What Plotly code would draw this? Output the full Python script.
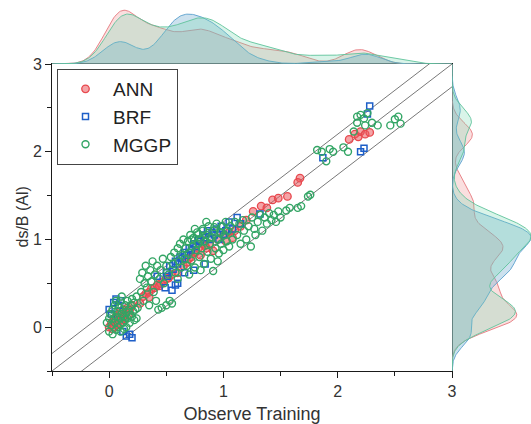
import numpy as np
import plotly.graph_objects as go

# ---------------- data ----------------
ann_x = [0.0, 0.02, 0.03, 0.05, 0.06, 0.08, 0.09, 0.1, 0.1, 0.12, 0.13, 0.14, 0.15, 0.16, 0.17, 0.18, 0.2, 0.04, 0.07, 0.11,
         0.27, 0.3, 0.32, 0.35, 0.37, 0.4, 0.42, 0.45, 0.47, 0.5, 0.52, 0.35, 0.44, 0.55,
         0.6, 0.65, 0.7, 0.72, 0.75, 0.78, 0.8, 0.82, 0.85, 0.88, 0.91, 0.95, 1.0, 1.05, 0.68, 0.76, 0.84,
         1.02, 1.08, 1.1, 1.15, 1.2,
         1.26, 1.33, 1.38, 1.43, 1.48, 1.56, 1.67, 1.65,
         2.1, 2.15, 2.18, 2.2, 2.24, 2.28]
ann_y = [0.0, 0.05, -0.02, 0.08, 0.12, 0.1, 0.15, 0.05, 0.18, 0.12, 0.2, 0.1, 0.16, 0.22, 0.14, 0.2, 0.25, 0.0, 0.03, 0.08,
         0.27, 0.35, 0.38, 0.4, 0.44, 0.45, 0.48, 0.5, 0.52, 0.55, 0.56, 0.34, 0.47, 0.6,
         0.62, 0.7, 0.78, 0.8, 0.85, 0.9, 0.82, 0.95, 0.9, 0.95, 0.87, 1.0, 1.05, 1.08, 0.74, 0.86, 0.93,
         0.98, 1.02, 1.1, 1.15, 1.22,
         1.32, 1.38, 1.36, 1.45, 1.47, 1.49, 1.7, 1.65,
         2.14, 2.2, 2.17, 2.23, 2.2, 2.22]

brf_x = [0.0, 0.02, 0.04, 0.06, 0.08, 0.1, 0.12, 0.15, 0.18, 0.2,
         0.42, 0.51,
         0.49, 0.55, 0.58, 0.6, 0.66, 0.74, 0.84,
         0.5, 0.53, 0.56, 0.58, 0.6, 0.62, 0.64, 0.66, 0.68, 0.7, 0.72, 0.74, 0.76, 0.78, 0.8,
         0.82, 0.84, 0.86, 0.88, 0.9, 0.92, 0.94, 0.96, 0.98, 1.0, 1.02, 1.05, 1.08, 1.12, 1.15,
         1.32, 1.87, 2.2, 2.23, 2.26, 2.28]
brf_y = [0.2, 0.15, 0.28, 0.32, 0.25, 0.3, -0.05, -0.1, -0.08, -0.12,
         0.58, 0.58,
         0.45, 0.42, 0.48, 0.5, 0.62, 0.65, 0.72,
         0.62, 0.7, 0.66, 0.75, 0.72, 0.8, 0.78, 0.85, 0.82, 0.9, 0.88, 0.95, 0.92, 1.0, 0.98,
         1.05, 1.02, 1.1, 1.0, 1.08, 1.05, 1.12, 1.0, 1.15, 1.06, 1.1, 1.2, 1.12, 1.25, 1.18,
         1.29, 1.93, 2.0, 2.04, 2.43, 2.52]

mggp_x = [-0.02, 0.0, 0.0, 0.01, 0.02, 0.03, 0.03, 0.04, 0.05, 0.05, 0.06, 0.07, 0.07, 0.08, 0.08, 0.09, 0.1, 0.1, 0.1,
          0.11, 0.12, 0.12, 0.13, 0.13, 0.14, 0.14, 0.15, 0.15, 0.16, 0.16, 0.17, 0.18, 0.18, 0.19, 0.2, 0.2, 0.21,
          0.22, 0.22, 0.23, 0.24, 0.24, 0.25, 0.06, 0.11,
          0.27, 0.28, 0.29, 0.3, 0.31, 0.32, 0.33, 0.34, 0.35, 0.36, 0.37, 0.38, 0.39, 0.4, 0.41, 0.42, 0.43, 0.44,
          0.45, 0.46, 0.47, 0.48, 0.5, 0.5, 0.52, 0.53, 0.54, 0.55,
          0.56, 0.57, 0.58, 0.6, 0.61, 0.62, 0.63, 0.64, 0.65, 0.66, 0.67, 0.68, 0.69, 0.7, 0.71, 0.72, 0.73, 0.74,
          0.75, 0.76, 0.77, 0.78, 0.79, 0.8, 0.81, 0.82, 0.83, 0.84, 0.85, 0.86, 0.87, 0.88, 0.89, 0.9, 0.91, 0.92,
          0.93, 0.94, 0.95, 0.96, 0.97, 0.98, 0.99, 1.0, 1.01, 1.02, 1.03, 1.04, 1.05, 0.6, 0.7, 0.8, 0.75, 0.85, 0.95,
          0.72, 0.78, 0.82, 0.88, 0.92, 0.98,
          1.06, 1.08, 1.1, 1.12, 1.14, 1.15, 1.17, 1.18, 1.2, 1.22, 1.24, 1.25, 1.27, 1.28, 1.3, 1.32, 1.34, 1.36,
          1.38, 1.4, 1.42, 1.44, 1.46, 1.48, 1.5,
          1.55, 1.58, 1.65, 1.68, 1.74, 1.76, 1.82, 1.86, 1.9, 1.93, 1.96, 2.09,
          2.14, 2.17, 2.17, 2.2, 2.23, 2.26, 2.24, 2.3, 2.35, 2.46, 2.5, 2.53, 2.55, 2.05]
mggp_y = [0.05, 0.1, -0.05, 0.15, 0.02, 0.2, -0.08, 0.1, 0.05, 0.25, -0.03, 0.12, 0.18, 0.0, 0.08, 0.22, 0.1, -0.05, 0.3,
          0.15, 0.05, 0.2, 0.12, -0.02, 0.25, 0.08, 0.17, 0.0, 0.3, 0.1, 0.2, 0.05, 0.14, 0.25, 0.12, 0.32, 0.18,
          0.08, 0.28, 0.2, 0.35, 0.1, 0.22, 0.3, 0.35,
          0.55, 0.4, 0.62, 0.3, 0.5, 0.7, 0.45, 0.58, 0.25, 0.65, 0.52, 0.75, 0.4, 0.6, 0.3, 0.7, 0.2, 0.55,
          0.65, 0.22, 0.78, 0.5, 0.25, 0.7, 0.6, 0.3, 0.8, 0.27,
          0.72, 0.85, 0.62, 0.9, 0.75, 0.95, 0.68, 0.82, 1.0, 0.78, 0.9, 0.7, 0.98, 0.85, 1.05, 0.76, 0.92, 1.02,
          0.68, 0.88, 1.08, 0.95, 0.8, 1.0, 0.9, 1.12, 0.72, 0.98, 1.05, 0.86, 1.15, 0.95, 0.78, 1.02, 0.64, 1.1,
          0.9, 1.18, 1.0, 0.84, 1.08, 0.95, 1.15, 0.88, 1.05, 1.2, 0.98, 1.1, 0.92, 0.55, 0.6, 0.65, 1.12, 1.2, 0.75,
          1.0, 1.06, 1.1, 1.02, 1.14, 1.08,
          1.15, 1.0, 1.2, 1.05, 1.18, 0.95, 1.22, 1.1, 1.0, 1.15, 0.92, 1.25, 1.12, 1.05, 1.2, 1.28, 1.1, 1.25,
          1.18, 1.3, 1.22, 1.28, 1.2, 1.32, 1.25,
          1.33, 1.36, 1.36, 1.38, 1.49, 1.51, 2.02, 2.0, 1.89, 2.03, 2.0, 2.0,
          2.23, 2.33, 2.4, 2.42, 2.38, 2.44, 2.3, 2.33, 2.3, 2.3, 2.37, 2.4, 2.32, 2.05]

series_names = ["ANN", "BRF", "MGGP"]
ref_offsets = [0.2, 0.0, -0.26]          # reference lines y = x + offset
x_ticks = [0, 1, 2, 3]
y_ticks = [0, 1, 2, 3]
axis_range = [-0.5, 3]

# marginal curves: relative peak heights (fraction of the marginal panel), as drawn in the original
top_peak = [0.84, 0.78, 0.78]
right_peak = [0.82, 1.0, 1.0]

# ---------------- styling ----------------
line_cols = ["rgb(232,72,78)", "rgb(30,95,200)", "rgb(50,165,100)"]
kde_line = ["rgba(230,120,125,0.9)", "rgba(90,160,205,0.9)", "rgba(95,195,155,0.9)"]
kde_fill = ["rgba(240,150,150,0.30)", "rgba(110,170,205,0.35)", "rgba(120,215,175,0.28)"]
FONT = "Arial, Liberation Sans, sans-serif"

data = [(ann_x, ann_y), (brf_x, brf_y), (mggp_x, mggp_y)]


def kde(v, grid, h=0.13):
    v = np.asarray(v, float)
    z = (grid[:, None] - v[None, :]) / h
    return np.exp(-0.5 * z * z).sum(axis=1) / (len(v) * h * np.sqrt(2 * np.pi))


grid = np.linspace(axis_range[0], axis_range[1], 351)
dens_x = [kde(d[0], grid) for d in data]
dens_y = [kde(d[1], grid) for d in data]
dens_x = [d / d.max() * p for d, p in zip(dens_x, top_peak)]
dens_y = [d / d.max() * p for d, p in zip(dens_y, right_peak)]

fig = go.Figure()

# marginal densities
for i in range(3):
    fig.add_trace(go.Scatter(x=grid, y=dens_x[i], mode="lines", fill="tozeroy",
                             line=dict(color=kde_line[i], width=1), fillcolor=kde_fill[i],
                             xaxis="x2", yaxis="y2", showlegend=False, hoverinfo="skip"))
    fig.add_trace(go.Scatter(x=dens_y[i], y=grid, mode="lines", fill="tozerox",
                             line=dict(color=kde_line[i], width=1), fillcolor=kde_fill[i],
                             xaxis="x3", yaxis="y3", showlegend=False, hoverinfo="skip"))

# reference lines
for off in ref_offsets:
    xs = np.array(axis_range, float)
    fig.add_trace(go.Scatter(x=xs, y=xs + off, mode="lines",
                             line=dict(color="rgb(120,120,120)", width=1),
                             showlegend=False, hoverinfo="skip"))

# scatter series
fig.add_trace(go.Scatter(x=ann_x, y=ann_y, mode="markers", name=series_names[0],
                         marker=dict(symbol="circle", size=7.5, color="rgba(235,90,95,0.55)",
                                     line=dict(color=line_cols[0], width=1.3))))
fig.add_trace(go.Scatter(x=brf_x, y=brf_y, mode="markers", name=series_names[1],
                         marker=dict(symbol="square-open", size=6, color=line_cols[1],
                                     line=dict(color=line_cols[1], width=1.5))))
fig.add_trace(go.Scatter(x=mggp_x, y=mggp_y, mode="markers", name=series_names[2],
                         marker=dict(symbol="circle-open", size=7, color=line_cols[2],
                                     line=dict(color=line_cols[2], width=1.4))))

W, H = 531, 424
ml, mr, mt, mb = 52, 0, 0, 53
pw, ph = W - ml - mr, H - mt - mb
xsplit = 400 / pw
ysplit = 307 / ph

axis_common = dict(showline=True, linecolor="#1a1a1a", linewidth=1, mirror=True,
                   ticks="outside", ticklen=6, tickwidth=1, tickcolor="#1a1a1a",
                   showgrid=False, zeroline=False, range=axis_range,
                   tickfont=dict(family=FONT, size=16, color="#333"),
                   minor=dict(ticks="outside", ticklen=4, dtick=0.5, tick0=0, tickcolor="#1a1a1a", showgrid=False))

fig.update_layout(
    width=W, height=H, margin=dict(l=ml, r=mr, t=mt, b=mb),
    paper_bgcolor="white", plot_bgcolor="rgba(0,0,0,0)",
    font=dict(family=FONT, color="#333"),
    xaxis=dict(domain=[0, xsplit], anchor="y", tickvals=x_ticks, automargin=False,
               title=dict(text="Observe Training", font=dict(family=FONT, size=18, color="#333"), standoff=8),
               **axis_common),
    yaxis=dict(domain=[0, ysplit], anchor="x", tickvals=y_ticks, automargin=False, **axis_common),
    xaxis2=dict(domain=[0, xsplit], anchor="y2", range=axis_range, visible=False),
    yaxis2=dict(domain=[ysplit, 1], anchor="x2", range=[0, 1], visible=False),
    xaxis3=dict(domain=[xsplit, 1], anchor="y3", range=[0, 1.0], visible=False),
    yaxis3=dict(domain=[0, ysplit], anchor="x3", range=axis_range, visible=False),
    legend=dict(x=(57 - ml) / pw, y=(ph - 69) / ph, xanchor="left", yanchor="top",
                bgcolor="white", bordercolor="#444", borderwidth=1,
                font=dict(family=FONT, size=19, color="#222"), itemwidth=45,
                tracegroupgap=0),
    annotations=[dict(text="ds/B (Al)", textangle=-90, xref="paper", yref="paper",
                      x=(22 - ml) / pw, y=ysplit / 2, xanchor="center", yanchor="middle",
                      showarrow=False, font=dict(family=FONT, size=16, color="#333"))],
    showlegend=True,
)

fig.write_html("out.html")
